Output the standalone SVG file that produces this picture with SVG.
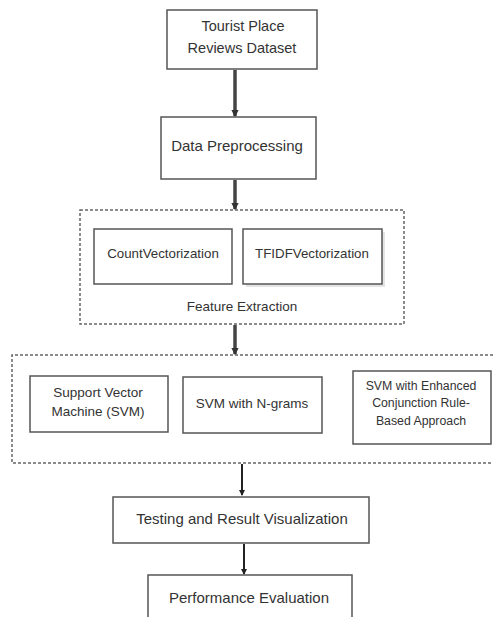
<svg xmlns="http://www.w3.org/2000/svg" width="493" height="617" viewBox="0 0 493 617">
<defs>
<marker id="ah" viewBox="0 0 6 6" refX="5" refY="3" markerWidth="2.2" markerHeight="2.2" orient="auto" markerUnits="strokeWidth">
<path d="M0,0 L6,3 L0,6 z" fill="#333"/>
</marker>
<marker id="ah2" viewBox="0 0 6 6" refX="5" refY="3" markerWidth="3" markerHeight="3" orient="auto" markerUnits="strokeWidth">
<path d="M0,0 L6,3 L0,6 z" fill="#222"/>
</marker>
</defs>
<style>
.box{fill:#fff;stroke:#555;stroke-width:1.5}
.dash{fill:none;stroke:#666;stroke-width:1.5;stroke-dasharray:3 2}
.t{font-family:"Liberation Sans",Arial,sans-serif;fill:#333;text-anchor:middle;dominant-baseline:central}
.c1{fill:none;stroke:#444;stroke-width:3.5}
.c2{fill:none;stroke:#222;stroke-width:2}
</style>
<rect width="493" height="617" fill="#fff"/>
<g id="connectors">
<line class="c1" x1="235" y1="70" x2="235" y2="116" marker-end="url(#ah)"/>
<line class="c1" x1="235" y1="180" x2="235" y2="209" marker-end="url(#ah)"/>
<line class="c1" x1="235" y1="325" x2="235" y2="354" marker-end="url(#ah)"/>
<line class="c2" x1="242" y1="464" x2="242" y2="495" marker-end="url(#ah2)"/>
<line class="c2" x1="244" y1="544" x2="244" y2="574" marker-end="url(#ah2)"/>
</g>
<g id="dataset">
<rect class="box" x="167" y="10" width="150" height="59"/>
<text class="t" x="243" y="26" font-size="14.5">Tourist Place</text>
<text class="t" x="242" y="48" font-size="14.5">Reviews Dataset</text>
</g>
<g id="preprocessing">
<rect class="box" x="161" y="117" width="155" height="62" stroke-width="2"/>
<text class="t" x="237" y="145" font-size="15">Data Preprocessing</text>
</g>
<g id="feature-extraction">
<rect class="dash" x="80" y="210" width="324" height="114"/>
<text class="t" x="242" y="306" font-size="13.5">Feature Extraction</text>
</g>
<g id="countvec">
<rect class="box" x="94" y="229" width="138" height="55"/>
<text class="t" x="163" y="253" font-size="13.3">CountVectorization</text>
</g>
<g id="tfidfvec">
<rect x="246" y="232" width="139" height="55" fill="#e4e4e4"/>
<rect class="box" x="243" y="229" width="139" height="55"/>
<text class="t" x="312" y="253" font-size="13.3">TFIDFVectorization</text>
</g>
<g id="classifiers">
<path class="dash" d="M493,355 H12 V463 H493"/>
</g>
<g id="svm">
<rect class="box" x="30" y="376" width="138" height="56"/>
<text class="t" x="98" y="392" font-size="13.5">Support Vector</text>
<text class="t" x="98" y="411" font-size="13.5">Machine (SVM)</text>
</g>
<g id="svm-ngrams">
<rect class="box" x="183" y="377" width="139" height="56"/>
<text class="t" x="252" y="403" font-size="13.5">SVM with N-grams</text>
</g>
<g id="svm-enhanced">
<rect class="box" x="353" y="371" width="138" height="73"/>
<text class="t" x="421" y="386" font-size="12.3">SVM with Enhanced</text>
<text class="t" x="421" y="403" font-size="12.3">Conjunction Rule-</text>
<text class="t" x="421" y="421" font-size="12.3">Based Approach</text>
</g>
<g id="testing">
<rect class="box" x="113" y="497" width="256" height="46" stroke-width="2"/>
<text class="t" x="242" y="518" font-size="15">Testing and Result Visualization</text>
</g>
<g id="performance">
<rect class="box" x="148" y="575" width="204" height="50" stroke-width="2"/>
<text class="t" x="249" y="597" font-size="15">Performance Evaluation</text>
</g>
</svg>
